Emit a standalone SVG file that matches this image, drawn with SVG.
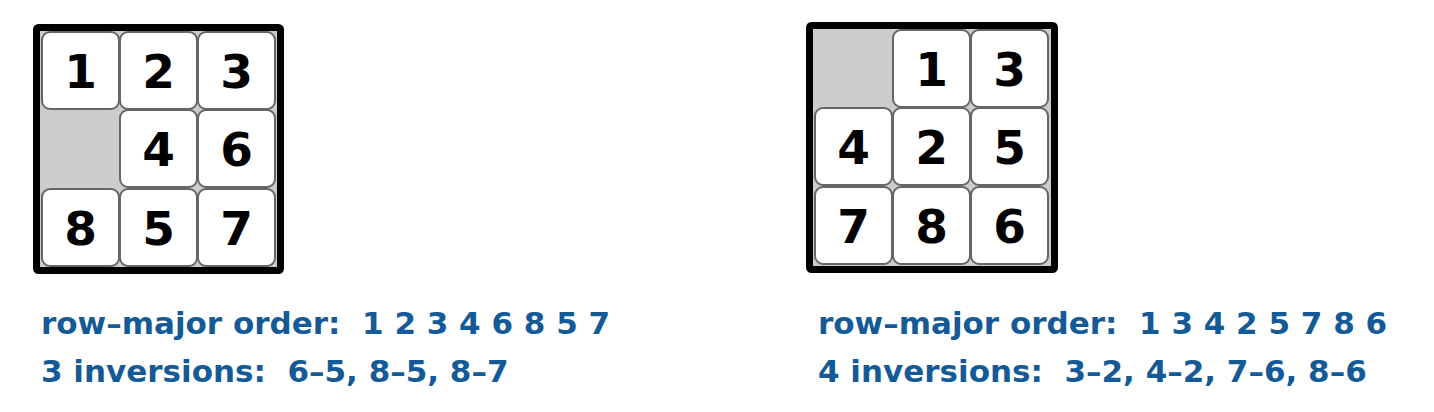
<svg xmlns="http://www.w3.org/2000/svg" width="1434" height="412" viewBox="0 0 1434 412">
<style>
.bg{fill:#cccccc}
.frame{fill:none;stroke:#000;stroke-width:7}
.tile rect{fill:#fff;stroke:#666;stroke-width:2}
.tile text{font-family:"DejaVu Sans",sans-serif;font-weight:bold;font-size:47px;fill:#000;text-anchor:middle}
.cap{font-family:"DejaVu Sans",sans-serif;font-weight:bold;font-size:31px;fill:#135a96;white-space:pre}
</style>
<rect width="1434" height="412" fill="#fff"/>
<g id="board-left">
<rect class="bg" x="40" y="31" width="237" height="236"/>
<g class="tile" id="L1"><rect x="42" y="32" width="77" height="77" rx="8"/><text x="80.5" y="87.5">1</text></g>
<g class="tile" id="L2"><rect x="120" y="32" width="77" height="77" rx="8"/><text x="158.5" y="87.5">2</text></g>
<g class="tile" id="L3"><rect x="198" y="32" width="77" height="77" rx="8"/><text x="236.5" y="87.5">3</text></g>
<g class="tile" id="L4"><rect x="120" y="110" width="77" height="77" rx="8"/><text x="158.5" y="165.5">4</text></g>
<g class="tile" id="L6"><rect x="198" y="110" width="77" height="77" rx="8"/><text x="236.5" y="165.5">6</text></g>
<g class="tile" id="L8"><rect x="42" y="189" width="77" height="77" rx="8"/><text x="80.5" y="244.5">8</text></g>
<g class="tile" id="L5"><rect x="120" y="189" width="77" height="77" rx="8"/><text x="158.5" y="244.5">5</text></g>
<g class="tile" id="L7"><rect x="198" y="189" width="77" height="77" rx="8"/><text x="236.5" y="244.5">7</text></g>
<rect class="frame" x="36.5" y="27.5" width="244" height="243" rx="2"/>
</g>
<g id="board-right">
<rect class="bg" x="813" y="29" width="238" height="237"/>
<g class="tile" id="R1"><rect x="893" y="30" width="77" height="77" rx="8"/><text x="931.5" y="85.5">1</text></g>
<g class="tile" id="R3"><rect x="971" y="30" width="77" height="77" rx="8"/><text x="1009.5" y="85.5">3</text></g>
<g class="tile" id="R4"><rect x="815" y="108" width="77" height="77" rx="8"/><text x="853.5" y="163.5">4</text></g>
<g class="tile" id="R2"><rect x="893" y="108" width="77" height="77" rx="8"/><text x="931.5" y="163.5">2</text></g>
<g class="tile" id="R5"><rect x="971" y="108" width="77" height="77" rx="8"/><text x="1009.5" y="163.5">5</text></g>
<g class="tile" id="R7"><rect x="815" y="187" width="77" height="77" rx="8"/><text x="853.5" y="242.5">7</text></g>
<g class="tile" id="R8"><rect x="893" y="187" width="77" height="77" rx="8"/><text x="931.5" y="242.5">8</text></g>
<g class="tile" id="R6"><rect x="971" y="187" width="77" height="77" rx="8"/><text x="1009.5" y="242.5">6</text></g>
<rect class="frame" x="809.5" y="25.5" width="245" height="244" rx="2"/>
</g>
<g id="captions">
<text class="cap" x="41" y="334">row–major order:  1 2 3 4 6 8 5 7</text>
<text class="cap" x="41" y="382">3 inversions:  6–5, 8–5, 8–7</text>
<text class="cap" x="818" y="334">row–major order:  1 3 4 2 5 7 8 6</text>
<text class="cap" x="818" y="382">4 inversions:  3–2, 4–2, 7–6, 8–6</text>
</g>
<g id="connectors"/>
</svg>
